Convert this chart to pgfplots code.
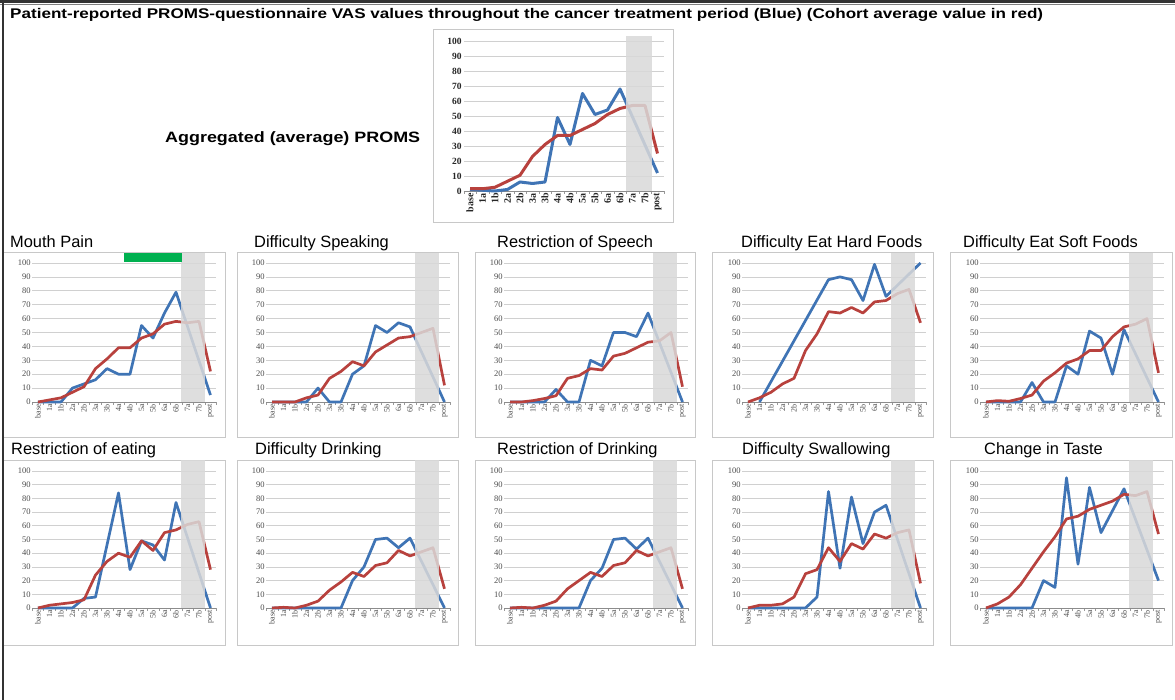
\documentclass[border=0pt]{standalone}
\usepackage{pgfplots}
\pgfplotsset{compat=1.18}
\usepackage{fontspec}
\setmainfont{Liberation Sans}
\newfontfamily\serif{Liberation Serif}
\definecolor{myblue}{HTML}{3F74B5}
\definecolor{myred}{HTML}{B8413D}
\definecolor{bandgray}{HTML}{D9D9D9}
\definecolor{framegray}{HTML}{C8C8C8}
\definecolor{gridgray}{HTML}{D0D0D0}
\newcommand{\band}[1]{\fill[bandgray, opacity=0.85] (axis cs:12.45,0) rectangle (axis cs:14.55,#1);}
\newcommand{\xline}{\draw[black!45, line width=0.6pt] (axis cs:-0.5,0) -- (axis cs:15.5,0);}
\pgfplotsset{
  chartbase/.style={
    scale only axis, clip=false, anchor=south west,
    xmin=-0.5, xmax=15.5, ymin=0, ymax=100,
    axis line style={draw=none},
    ytick={0,10,...,100},
    xtick={0,...,15},
    xticklabels={base,1a,1b,2a,2b,3a,3b,4a,4b,5a,5b,6a,6b,7a,7b,post},
    minor xtick={-0.5,0.5,...,15.5},
    tick pos=left, tick align=outside,
    major tick length=0pt, minor tick length=3pt,
    minor tick style={black!40, line width=0.5pt},
    ymajorgrids, grid style={gridgray, line width=0.6pt},
    /pgf/number format/assume math mode=true,
  },
  small/.style={
    chartbase, width=184pt,
    yticklabel style={font=\serif\fontsize{8.5}{9}\selectfont, text=black!70, inner sep=1.5pt},
    xticklabel style={rotate=90, anchor=east, font=\serif\fontsize{8}{9}\selectfont, text=black!70, inner sep=2pt},
  },
  bl/.style={color=myblue, line width=2.7pt, line join=round, no markers},
  rd/.style={color=myred, line width=2.7pt, line join=round, no markers},
}
\begin{document}
\begin{tikzpicture}[x=1pt,y=1pt]
\useasboundingbox (0,0) rectangle (1175,700);
\fill[white] (0,0) rectangle (1175,700);
% outer borders
\draw[black!80, line width=2.5pt] (0,698.5) -- (1175,698.5);
\draw[black!50, line width=0.8pt] (0,695.5) -- (1175,695.5);
% title
\node[anchor=base west, inner sep=0pt] at (10,681) {\resizebox{1033pt}{\height}{\bfseries\fontsize{14}{16}\selectfont Patient-reported PROMS-questionnaire VAS values throughout the cancer treatment period (Blue) (Cohort average value in red)}};
\node[anchor=base west, inner sep=0pt] at (165,557) {\resizebox{255pt}{\height}{\bfseries\fontsize{15}{17}\selectfont Aggregated (average) PROMS}};
% frames
\draw[framegray, line width=0.8pt] (433,671) rectangle (673,478);
\foreach \a/\b in {3/225,237/458,475/695,712/933,950/1172}{
  \draw[framegray, line width=0.8pt] (\a,448) rectangle (\b,263);
  \draw[framegray, line width=0.8pt] (\a,240) rectangle (\b,55);
}
\draw[black!80, line width=1.5pt] (3,700) -- (3,0);
% panel titles
\begin{scope}[every node/.style={anchor=base west, inner sep=0pt, font=\fontsize{16.4}{18}\selectfont}]
\node at (10,452) {Mouth Pain};
\node at (254,452) {Difficulty Speaking};
\node at (497,452) {Restriction of Speech};
\node at (741,452) {Difficulty Eat Hard Foods};
\node at (963,452) {Difficulty Eat Soft Foods};
\node at (11,245) {Restriction of eating};
\node at (255,245) {Difficulty Drinking};
\node at (497,245) {Restriction of Drinking};
\node at (742,245) {Difficulty Swallowing};
\node at (984,245) {Change in Taste};
\end{scope}

% ===== aggregated =====
\begin{axis}[chartbase, at={(463.75pt,509pt)}, width=200pt, height=150pt,
  yticklabel style={font=\serif\bfseries\fontsize{9.5}{10}\selectfont, text=black!85, inner sep=2pt},
  xticklabel style={rotate=90, anchor=east, font=\serif\bfseries\fontsize{10}{11}\selectfont, text=black!85, inner sep=2pt}]
\xline
\addplot[bl, line width=3pt] coordinates {(0,1)(1,0.5)(2,0)(3,1)(4,6)(5,5)(6,6)(7,49)(8,31)(9,65)(10,51)(11,54)(12,68)(15,12)};
\addplot[rd, line width=3pt] coordinates {(0,1.5)(1,1.5)(2,2.5)(3,6.5)(4,10.5)(5,23)(6,31)(7,37)(8,37)(9,41)(10,45)(11,51)(12,55)(13,57)(14,57)(15,25)};
\band{103.5}
\end{axis}

% ===== row 1 =====
\begin{axis}[small, at={(32.25pt,298pt)}, height=139pt]
\xline
\addplot[bl] coordinates {(0,0)(1,0)(2,0)(3,10)(4,13)(5,16)(6,24)(7,20)(8,20)(9,55)(10,46)(11,64)(12,79)(15,5)};
\addplot[rd] coordinates {(0,0)(1,1.5)(2,3)(3,7)(4,11)(5,24)(6,31)(7,39)(8,39)(9,46)(10,49)(11,56)(12,58)(13,57)(14,58)(15,22)};
\band{107}
\fill[fill={rgb,255:red,0;green,176;blue,80}] (axis cs:7.5,107) rectangle (axis cs:12.5,100.5);
\end{axis}

\begin{axis}[small, at={(266.25pt,298pt)}, height=139pt]
\xline
\addplot[bl] coordinates {(0,0)(1,0)(2,0)(3,0)(4,10)(5,0)(6,0)(7,20)(8,26)(9,55)(10,50)(11,57)(12,54)(15,0)};
\addplot[rd] coordinates {(0,0)(1,0)(2,0)(3,3)(4,5)(5,17)(6,22)(7,29)(8,26)(9,36)(10,41)(11,46)(12,47)(13,50)(14,53)(15,12)};
\band{107}
\end{axis}

\begin{axis}[small, at={(504.25pt,298pt)}, height=139pt]
\xline
\addplot[bl] coordinates {(0,0)(1,0)(2,0)(3,0)(4,9)(5,0)(6,0)(7,30)(8,26)(9,50)(10,50)(11,47)(12,64)(15,0)};
\addplot[rd] coordinates {(0,0)(1,0)(2,1)(3,2.5)(4,4.5)(5,17)(6,19)(7,24)(8,23)(9,33)(10,35)(11,39)(12,43)(13,44)(14,50)(15,11)};
\band{107}
\end{axis}

\begin{axis}[small, at={(742.25pt,298pt)}, height=139pt]
\xline
\addplot[bl] coordinates {(1,0)(7,88)(8,90)(9,88)(10,73)(11,99)(12,76)(15,100)};
\addplot[rd] coordinates {(0,0)(1,3)(2,7)(3,13)(4,17)(5,37)(6,49)(7,65)(8,64)(9,68)(10,64)(11,72)(12,73)(13,78)(14,81)(15,57)};
\band{107}
\end{axis}

\begin{axis}[small, at={(980.25pt,298pt)}, height=139pt]
\xline
\addplot[bl] coordinates {(0,0)(1,0)(2,0)(3,0)(4,14)(5,0)(6,0)(7,26)(8,20)(9,51)(10,46)(11,20)(12,52)(15,0)};
\addplot[rd] coordinates {(0,0)(1,1)(2,0.5)(3,2.5)(4,5)(5,15)(6,21)(7,28)(8,31)(9,37)(10,37)(11,47)(12,54)(13,56)(14,60)(15,21)};
\band{107}
\end{axis}

% ===== row 2 =====
\begin{axis}[small, at={(32.25pt,92pt)}, height=137pt]
\xline
\addplot[bl] coordinates {(0,0)(1,0)(2,0)(3,0)(4,7)(5,8)(7,84)(8,28)(9,49)(10,46)(11,35)(12,77)(15,0)};
\addplot[rd] coordinates {(0,0)(1,2)(2,3)(3,4)(4,6)(5,24)(6,34)(7,40)(8,37)(9,49)(10,42)(11,55)(12,57)(13,61)(14,63)(15,28)};
\band{108}
\end{axis}

\begin{axis}[small, at={(266.25pt,92pt)}, height=137pt]
\xline
\addplot[bl] coordinates {(0,0)(1,0)(2,0)(3,0)(4,0)(5,0)(6,0)(7,20)(8,30)(9,50)(10,51)(11,44)(12,51)(15,0)};
\addplot[rd] coordinates {(0,0)(1,0.5)(2,0)(3,2)(4,5)(5,13)(6,19)(7,26)(8,23)(9,31)(10,33)(11,42)(12,38)(13,41)(14,44)(15,14)};
\band{108}
\end{axis}

\begin{axis}[small, at={(504.25pt,92pt)}, height=137pt]
\xline
\addplot[bl] coordinates {(0,0)(1,0)(2,0)(3,0)(4,0)(5,0)(6,0)(7,20)(8,29)(9,50)(10,51)(11,43)(12,51)(15,0)};
\addplot[rd] coordinates {(0,0)(1,0.5)(2,0)(3,2)(4,5)(5,14)(6,20)(7,26)(8,23)(9,31)(10,33)(11,42)(12,38)(13,41)(14,44)(15,14)};
\band{108}
\end{axis}

\begin{axis}[small, at={(742.25pt,92pt)}, height=137pt]
\xline
\addplot[bl] coordinates {(0,0)(1,0)(2,0)(3,0)(4,0)(5,0)(6,8)(7,85)(8,29)(9,81)(10,47)(11,70)(12,75)(15,0)};
\addplot[rd] coordinates {(0,0)(1,2)(2,2)(3,3)(4,8)(5,25)(6,28)(7,44)(8,34)(9,47)(10,43)(11,54)(12,51)(13,55)(14,57)(15,18)};
\band{108}
\end{axis}

\begin{axis}[small, at={(980.25pt,92pt)}, height=137pt]
\xline
\addplot[bl] coordinates {(0,0)(1,0)(2,0)(3,0)(4,0)(5,20)(6,15)(7,95)(8,32)(9,88)(10,55)(12,87)(15,20)};
\addplot[rd] coordinates {(0,0)(1,3)(2,8)(3,17)(4,29)(5,41)(6,52)(7,65)(8,67)(9,72)(10,75)(11,78)(12,83)(13,82)(14,85)(15,54)};
\band{108}
\end{axis}
\end{tikzpicture}
\end{document}
